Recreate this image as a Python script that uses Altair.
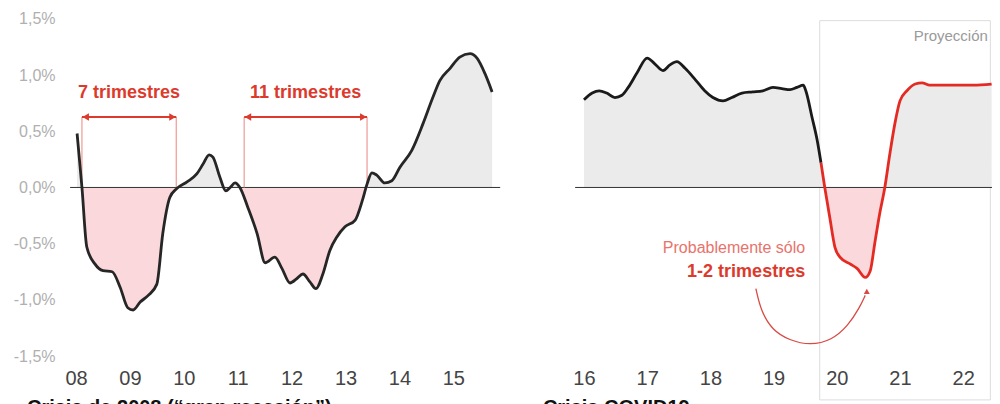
import altair as alt
import pandas as pd

# ---------------- data ----------------
left_years = [2008.02, 2008.11, 2008.20, 2008.35, 2008.50, 2008.67, 2008.82, 2008.96,
              2009.06, 2009.19, 2009.34, 2009.50, 2009.61, 2009.74, 2009.87,
              2010.06, 2010.24, 2010.36, 2010.47, 2010.54, 2010.67, 2010.78, 2010.86, 2010.95,
              2011.04, 2011.19, 2011.36, 2011.51, 2011.69, 2011.82, 2011.97,
              2012.10, 2012.21, 2012.34, 2012.45, 2012.58, 2012.71, 2012.84, 2012.99,
              2013.18, 2013.31, 2013.40, 2013.49, 2013.58, 2013.73, 2013.86,
              2014.01, 2014.23, 2014.44, 2014.62, 2014.75, 2014.94,
              2015.12, 2015.31, 2015.44, 2015.59, 2015.72]
left_values = [0.48, 0.00, -0.53, -0.68, -0.74, -0.75, -0.89, -1.07,
               -1.09, -1.02, -0.96, -0.86, -0.41, -0.09, -0.01,
               0.05, 0.12, 0.21, 0.29, 0.27, 0.09, -0.03, 0.00, 0.04,
               0.00, -0.18, -0.41, -0.67, -0.62, -0.72, -0.85,
               -0.81, -0.77, -0.84, -0.90, -0.77, -0.56, -0.44, -0.35,
               -0.29, -0.12, 0.03, 0.13, 0.11, 0.04, 0.06,
               0.18, 0.33, 0.57, 0.80, 0.95, 1.06,
               1.16, 1.19, 1.15, 1.01, 0.85]

hist_years = [2016.00, 2016.13, 2016.24, 2016.36, 2016.49, 2016.60, 2016.70, 2016.84,
              2017.00, 2017.12, 2017.25, 2017.36, 2017.47, 2017.60, 2017.76, 2017.91,
              2018.04, 2018.20, 2018.34, 2018.50, 2018.67, 2018.83, 2018.99,
              2019.13, 2019.26, 2019.37, 2019.47, 2019.51, 2019.61, 2019.69, 2019.75]
hist_values = [0.78, 0.84, 0.86, 0.84, 0.80, 0.82, 0.89, 1.02,
               1.15, 1.10, 1.04, 1.09, 1.12, 1.06, 0.96, 0.86,
               0.80, 0.77, 0.80, 0.84, 0.85, 0.86, 0.89,
               0.88, 0.87, 0.89, 0.91, 0.86, 0.62, 0.42, 0.22]

proj_years = [2019.75, 2019.81, 2019.89, 2019.97, 2020.05, 2020.21, 2020.32, 2020.45,
              2020.53, 2020.60, 2020.68, 2020.76, 2020.84, 2020.92, 2021.00, 2021.11,
              2021.24, 2021.35, 2021.47, 2021.79, 2022.16, 2022.45]
proj_values = [0.22, 0.00, -0.27, -0.53, -0.62, -0.68, -0.72, -0.80,
               -0.74, -0.50, -0.23, 0.00, 0.30, 0.57, 0.77, 0.86,
               0.92, 0.93, 0.91, 0.91, 0.91, 0.92]

left_ticks = list(range(2008, 2016))
right_ticks = list(range(2016, 2023))
y_ticks = [-1.5, -1.0, -0.5, 0.0, 0.5, 1.0, 1.5]

# annotations (data units)
brackets = {"label": ["7 trimestres", "11 trimestres"],
            "start": [2008.11, 2011.12], "end": [2009.86, 2013.40]}
bracket_level = 0.627
bracket_label_level = 0.84
arc_years = [2018.72, 2018.80, 2018.98, 2019.25, 2019.58, 2019.92, 2020.18, 2020.36, 2020.45]
arc_values = [-0.90, -1.10, -1.27, -1.36, -1.405, -1.36, -1.23, -1.07, -0.96]
proj_box = {"x0": [2019.73], "x1": [2022.43], "y0": [1.484], "y1": [-1.89]}

RED = "#dc3a2c"
LIGHTRED = "#e8736c"
FONT = "Liberation Sans, Arial, Helvetica, sans-serif"

Y_SCALE = alt.Scale(domain=[-1.535, 1.552], nice=False, zero=False)
XL_SCALE = alt.Scale(domain=[2007.740, 2024.995], nice=False, zero=False)
XR_SCALE = alt.Scale(domain=[2007.741, 2022.456], nice=False, zero=False)

Y_AXIS = alt.Axis(values=y_ticks, title=None, labelFontSize=16, labelColor="#b0b0b0",
                  labelPadding=7, labelFlush=False, labelOverlap=False,
                  labelExpr="(datum.value < 0 ? '-' : '') + replace(format(abs(datum.value), '.1f'), '.', ',') + '%'")


def x_axis(ticks):
    return alt.Axis(values=ticks, title=None, orient="bottom", labelFontSize=20,
                    labelColor="#444", labelPadding=8, labelFlush=False, labelOverlap=False,
                    labelExpr="substring(toString(datum.value), 2, 4)")


def XL(field):
    return alt.X(field, type="quantitative", scale=XL_SCALE, axis=x_axis(left_ticks))


def XR(field):
    return alt.X(field, type="quantitative", scale=XR_SCALE, axis=x_axis(right_ticks))


def Y(field):
    return alt.Y(field, type="quantitative", scale=Y_SCALE, axis=Y_AXIS)


# ---------------- left panel ----------------
ldf = pd.DataFrame({"x": left_years, "v": left_values})
lbase = alt.Chart(ldf).transform_calculate(pos="max(datum.v, 0)", neg="min(datum.v, 0)", zero="0")

l_pos = lbase.mark_area(color="#ebebeb", interpolate="monotone").encode(x=XL("x"), y=Y("pos"), y2="zero:Q")
l_neg = lbase.mark_area(color="#fbd8db", interpolate="monotone").encode(x=XL("x"), y=Y("neg"), y2="zero:Q")
l_line = lbase.mark_line(color="#262626", strokeWidth=2.8, interpolate="monotone").encode(x=XL("x"), y=Y("v"))

l_zero = alt.Chart(pd.DataFrame({"x0": [2007.89], "x1": [2015.87], "y0": [0.0]})).mark_rule(
    color="#333", strokeWidth=1).encode(x=XL("x0"), x2="x1", y=Y("y0"))

bdf = pd.DataFrame(brackets)
bbase = alt.Chart(bdf).transform_calculate(
    top=str(bracket_level), zero="0", lab=str(bracket_label_level),
    mid="(datum.start + datum.end) / 2",
    ls="datum.start + 0.07", le="datum.end - 0.07")
b_left = bbase.mark_rule(color="#ee9a94", strokeWidth=1.2).encode(x=XL("start"), y=Y("top"), y2="zero:Q")
b_right = bbase.mark_rule(color="#ee9a94", strokeWidth=1.2).encode(x=XL("end"), y=Y("top"), y2="zero:Q")
b_h = bbase.mark_rule(color=RED, strokeWidth=2.2).encode(x=XL("start"), x2="end", y=Y("top"))
b_al = bbase.mark_point(shape="triangle-left", filled=True, size=55, color=RED, opacity=1,
                        strokeWidth=0).encode(x=XL("ls:Q"), y=Y("top"))
b_ar = bbase.mark_point(shape="triangle-right", filled=True, size=55, color=RED, opacity=1,
                        strokeWidth=0).encode(x=XL("le:Q"), y=Y("top"))
b_txt = bbase.mark_text(font=FONT, fontSize=18, fontWeight="bold", color=RED,
                        align="center", baseline="middle").encode(x=XL("mid:Q"), y=Y("lab"), text="label")

l_title = alt.Chart(pd.DataFrame({"x": [2007.09], "y": [-1.873],
                                  "t": ["Crisis de 2008 (\u201cgran recesi\u00f3n\u201d)"]})).mark_text(
    font=FONT, fontSize=20, fontWeight="bold", color="#111", align="left", baseline="top").encode(
    x=XL("x"), y=Y("y"), text="t")

left = alt.layer(l_pos, l_neg, l_zero, b_left, b_right, b_h, b_al, b_ar, l_line, b_txt, l_title)

# ---------------- right panel ----------------
rdf = pd.DataFrame({"x": hist_years + proj_years[1:], "v": hist_values + proj_values[1:]})
rbase = alt.Chart(rdf).transform_calculate(pos="max(datum.v, 0)", neg="min(datum.v, 0)", zero="0")

box = alt.Chart(pd.DataFrame(proj_box)).mark_rect(fill="white", fillOpacity=0, stroke="#dcdcdc",
                                                  strokeWidth=1).encode(x=XR("x0"), x2="x1", y=Y("y0"), y2="y1")
r_pos = rbase.mark_area(color="#ebebeb", interpolate="monotone").encode(x=XR("x"), y=Y("pos"), y2="zero:Q")
r_neg = rbase.mark_area(color="#fbd8db", interpolate="monotone").encode(x=XR("x"), y=Y("neg"), y2="zero:Q")
r_zero = alt.Chart(pd.DataFrame({"x0": [2015.86], "x1": [2022.456], "y0": [0.0]})).mark_rule(
    color="#333", strokeWidth=1).encode(x=XR("x0"), x2="x1", y=Y("y0"))
r_hist = alt.Chart(pd.DataFrame({"x": hist_years, "v": hist_values})).mark_line(
    color="#1a1a1a", strokeWidth=2.8, interpolate="monotone").encode(x=XR("x"), y=Y("v"))
r_proj = alt.Chart(pd.DataFrame({"x": proj_years, "v": proj_values})).mark_line(
    color="#e32b24", strokeWidth=2.8, interpolate="monotone").encode(x=XR("x"), y=Y("v"))

arc = alt.Chart(pd.DataFrame({"x": arc_years, "v": arc_values})).mark_line(
    color="#d84a44", strokeWidth=1.3, interpolate="basis").encode(x=XR("x"), y=Y("v"))
arc_head = alt.Chart(pd.DataFrame({"x": [2020.475], "v": [-0.925]})).mark_point(
    shape="triangle-up", filled=True, size=35, color="#d84a44", opacity=1, strokeWidth=0).encode(
    x=XR("x"), y=Y("v"))

notes = pd.DataFrame({"x": [2019.50, 2019.50, 2022.39, 2015.35],
                      "y": [-0.538, -0.752, 1.348, -1.873],
                      "t": ["Probablemente s\u00f3lo", "1-2 trimestres", "Proyecci\u00f3n", "Crisis COVID19"]})
n1 = alt.Chart(notes.iloc[[0]]).mark_text(font=FONT, fontSize=16, color=LIGHTRED, align="right",
                                          baseline="middle").encode(x=XR("x"), y=Y("y"), text="t")
n2 = alt.Chart(notes.iloc[[1]]).mark_text(font=FONT, fontSize=18, fontWeight="bold", color=RED,
                                          align="right", baseline="middle").encode(x=XR("x"), y=Y("y"), text="t")
n3 = alt.Chart(notes.iloc[[2]]).mark_text(font=FONT, fontSize=15, color="#9a9a9a", align="right",
                                          baseline="middle").encode(x=XR("x"), y=Y("y"), text="t")
n4 = alt.Chart(notes.iloc[[3]]).mark_text(font=FONT, fontSize=20, fontWeight="bold", color="#111",
                                          align="left", baseline="top").encode(x=XR("x"), y=Y("y"), text="t")

right = alt.layer(box, r_pos, r_neg, r_zero, r_hist, r_proj, arc, arc_head, n1, n2, n3, n4)

chart = alt.layer(left, right).resolve_scale(x="independent").properties(
    width=930, height=347,
    autosize=alt.AutoSizeParams(type="none"),
    padding={"left": 54, "top": 5, "right": 0, "bottom": 60},
    background="white",
).configure_view(stroke=None).configure_axis(grid=False, domain=False, ticks=False, labelFont=FONT)

chart.save("out.html", embed_options={"renderer": "svg", "actions": False})
